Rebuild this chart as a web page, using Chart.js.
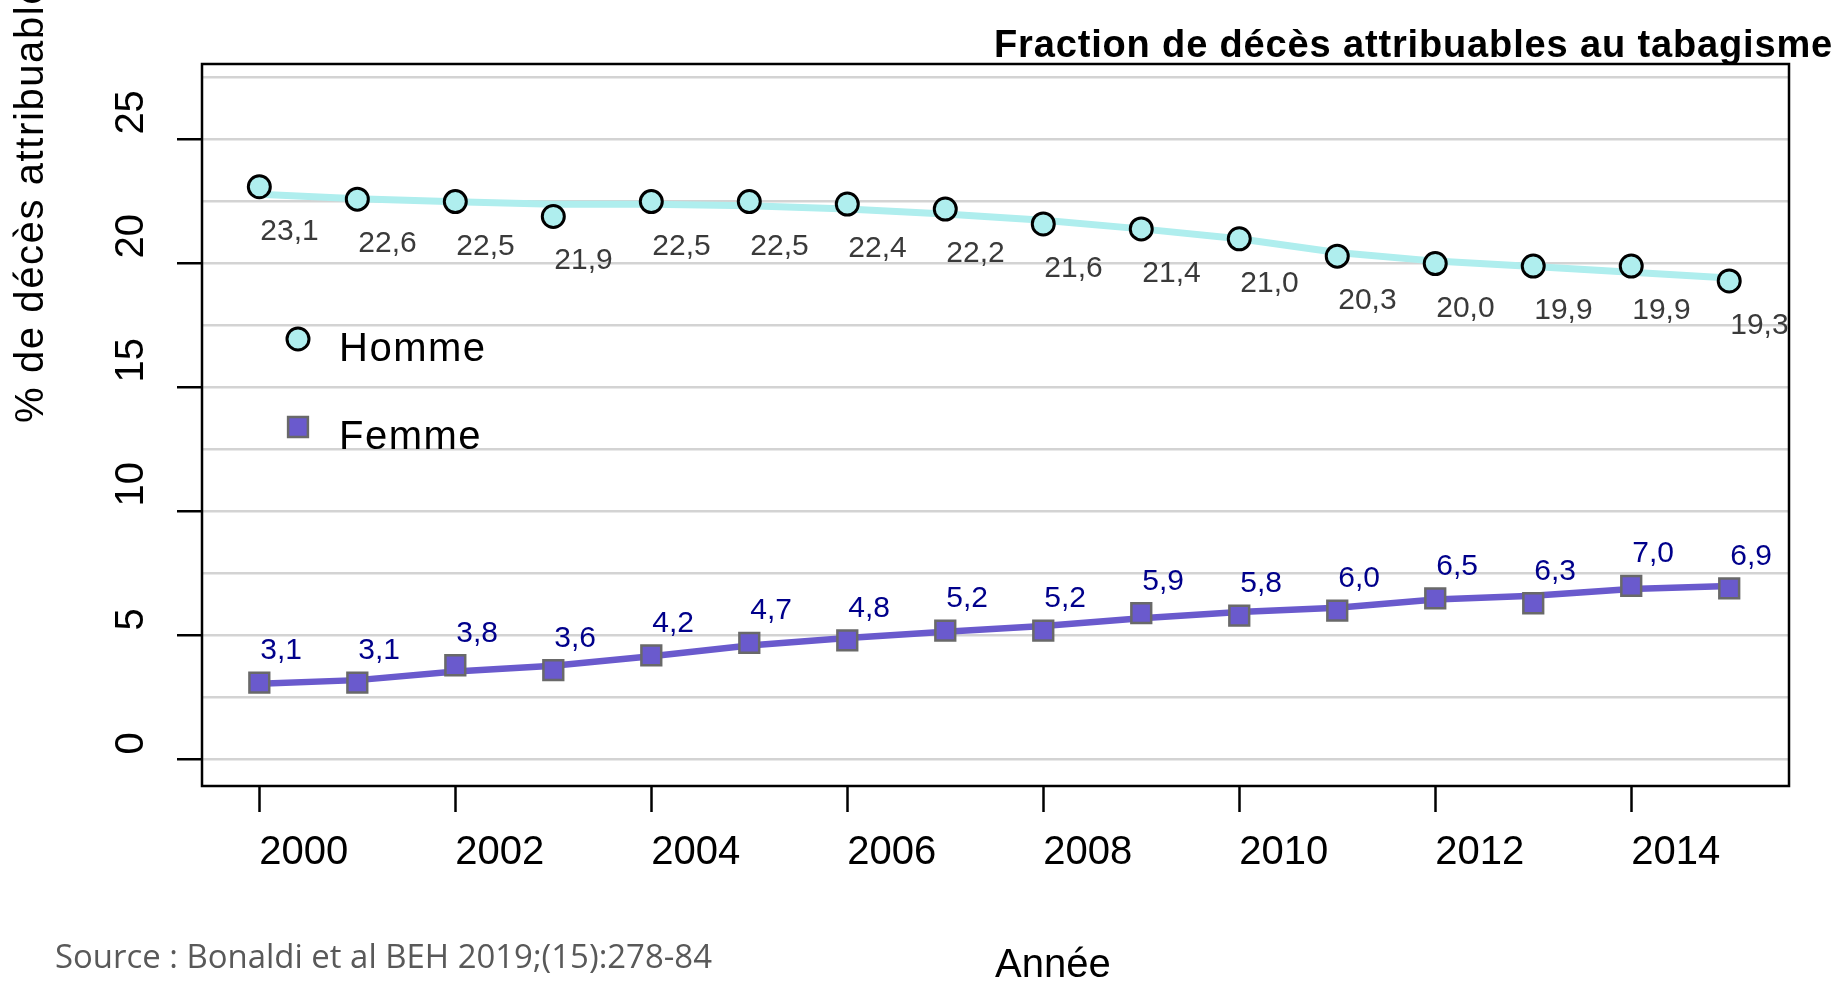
<!DOCTYPE html>
<html lang="fr">
<head>
<meta charset="utf-8">
<title>Fraction de décès attribuables au tabagisme</title>
<script src="https://cdn.jsdelivr.net/npm/chart.js@4.4.1/dist/chart.umd.min.js"></script>
<style>
  html, body { margin: 0; padding: 0; background: #fff; }
  #cadre { width: 1839px; height: 981px; position: relative; }
</style>
</head>
<body>
<div id="cadre"><canvas id="graphique"></canvas></div>
<script>
// valeurs (Bonaldi et al, BEH 2019)
const annees = [2000, 2001, 2002, 2003, 2004, 2005, 2006, 2007, 2008, 2009, 2010, 2011, 2012, 2013, 2014, 2015];
const homme = [23.1, 22.6, 22.5, 21.9, 22.5, 22.5, 22.4, 22.2, 21.6, 21.4, 21.0, 20.3, 20.0, 19.9, 19.9, 19.3];
const femme = [3.1, 3.1, 3.8, 3.6, 4.2, 4.7, 4.8, 5.2, 5.2, 5.9, 5.8, 6.0, 6.5, 6.3, 7.0, 6.9];
const hommeLisse = [22.8, 22.62, 22.49, 22.39, 22.39, 22.33, 22.2, 22.0, 21.75, 21.4, 21.0, 20.45, 20.1, 19.88, 19.65, 19.42];
const femmeLisse = [3.05, 3.2, 3.55, 3.78, 4.16, 4.6, 4.9, 5.15, 5.38, 5.7, 5.95, 6.12, 6.45, 6.6, 6.88, 7.0];
// graduations
const graduationsX = [2000, 2002, 2004, 2006, 2008, 2010, 2012, 2014];
const graduationsY = [0, 2.5, 5, 7.5, 10, 12.5, 15, 17.5, 20, 22.5, 25, 27.5];
const etiquettesY = ['0', '', '5', '', '10', '', '15', '', '20', '', '25', ''];

const POLICE = '"Liberation Sans", Arial, sans-serif';
const TURQUOISE = '#AFEEEE';
const VIOLET = '#6A5ACD';

Chart.defaults.font.family = POLICE;
Chart.defaults.color = '#000';

const enPoints = (vals) => vals.map((v, i) => ({x: annees[i], y: v}));
const virgule = (v) => v.toFixed(1).replace('.', ',');

// style des etiquettes de valeurs par serie
const styleEtiquettes = {
  'Homme': {couleur: '#3a3a3a', dy: 53},
  'Femme': {couleur: '#00008B', dy: -23.5}
};

const etiquettesValeurs = {
  id: 'etiquettesValeurs',
  afterDatasetsDraw(chart) {
    const {ctx, chartArea} = chart;
    ctx.save();
    ctx.beginPath();
    ctx.rect(chartArea.left, chartArea.top, chartArea.right - chartArea.left, chartArea.bottom - chartArea.top);
    ctx.clip();
    ctx.font = '30px ' + POLICE;
    ctx.textAlign = 'left';
    ctx.textBaseline = 'alphabetic';
    chart.data.datasets.forEach((ds, i) => {
      const st = styleEtiquettes[ds.label];
      if (!st) return;
      ctx.fillStyle = st.couleur;
      chart.getDatasetMeta(i).data.forEach((pt, j) => {
        ctx.fillText(virgule(ds.data[j].y), pt.x + 1, pt.y + st.dy);
      });
    });
    ctx.restore();
  }
};

const habillage = {
  id: 'habillage',
  afterDraw(chart) {
    const {ctx, chartArea: a} = chart;
    ctx.save();
    // cadre du graphique
    ctx.strokeStyle = '#000';
    ctx.lineWidth = 2.5;
    ctx.strokeRect(a.left, a.top, a.right - a.left, a.bottom - a.top);

    // titre
    ctx.fillStyle = '#000';
    ctx.font = 'bold 38px ' + POLICE;
    ctx.letterSpacing = '0.85px';
    ctx.textAlign = 'right';
    ctx.textBaseline = 'alphabetic';
    ctx.fillText('Fraction de décès attribuables au tabagisme', 1833, 57);

    // titres des axes
    ctx.font = '40px ' + POLICE;
    ctx.textAlign = 'left';
    ctx.letterSpacing = '0px';
    ctx.fillText('Année', 995, 977);
    ctx.save();
    ctx.translate(43, 423);
    ctx.rotate(-Math.PI / 2);
    ctx.letterSpacing = '1.6px';
    ctx.fillText('% de décès attribuables', 0, 0);
    ctx.restore();

    // source
    ctx.fillStyle = '#595959';
    ctx.font = '33px "Open Sans", sans-serif';
    ctx.letterSpacing = '0px';
    ctx.fillText('Source : Bonaldi et al BEH 2019;(15):278-84', 55, 968, 657);

    // legende
    const entrees = [
      {texte: 'Homme', y: 339, style: {pointStyle: 'circle', radius: 11, borderWidth: 3}, fond: TURQUOISE, trait: '#000'},
      {texte: 'Femme', y: 427, style: {pointStyle: 'rect', radius: 14, borderWidth: 2.5}, fond: VIOLET, trait: '#696969'}
    ];
    entrees.forEach(e => {
      ctx.fillStyle = e.fond;
      ctx.strokeStyle = e.trait;
      ctx.lineWidth = e.style.borderWidth;
      Chart.helpers.drawPoint(ctx, e.style, 298, e.y);
      ctx.fillStyle = '#000';
      ctx.font = '40px ' + POLICE;
      ctx.letterSpacing = '1.5px';
      ctx.fillText(e.texte, 339, e.y + 22);
      ctx.letterSpacing = '0px';
    });
    ctx.restore();
  }
};

new Chart(document.getElementById('graphique'), {
  type: 'line',
  data: {
    datasets: [
      {
        label: 'Homme',
        data: enPoints(homme),
        showLine: false,
        pointStyle: 'circle',
        pointRadius: 11,
        pointBorderWidth: 3,
        pointBackgroundColor: TURQUOISE,
        pointBorderColor: '#000'
      },
      {
        label: 'Femme',
        data: enPoints(femme),
        showLine: false,
        pointStyle: 'rect',
        pointRadius: 14,
        pointBorderWidth: 2.5,
        pointBackgroundColor: VIOLET,
        pointBorderColor: '#696969'
      },
      {
        label: 'Homme lissé',
        data: enPoints(hommeLisse),
        borderColor: TURQUOISE,
        borderWidth: 7,
        pointRadius: 0
      },
      {
        label: 'Femme lissé',
        data: enPoints(femmeLisse),
        borderColor: VIOLET,
        borderWidth: 6.5,
        pointRadius: 0
      }
    ]
  },
  options: {
    responsive: true,
    maintainAspectRatio: false,
    devicePixelRatio: 1,
    animation: false,
    events: [],
    layout: {padding: {top: 64, left: 112, right: 50, bottom: 0}},
    plugins: {
      legend: {display: false},
      tooltip: {enabled: false}
    },
    scales: {
      x: {
        type: 'linear',
        min: 1999.415,
        max: 2015.61,
        afterBuildTicks: (s) => { s.ticks = graduationsX.map(v => ({value: v})); },
        afterFit: (s) => { s.height = 195; },
        border: {display: false},
        grid: {drawOnChartArea: false, drawTicks: true, tickLength: 26, tickColor: '#000', tickWidth: 2.5},
        ticks: {
          align: 'start',
          autoSkip: false,
          maxRotation: 0,
          padding: 16.5,
          font: {size: 40},
          color: '#000',
          callback: (v) => String(v)
        }
      },
      y: {
        type: 'linear',
        min: -1.07,
        max: 28.05,
        afterBuildTicks: (s) => { s.ticks = graduationsY.map(v => ({value: v})); },
        afterFit: (s) => { s.width = 90; },
        border: {display: false},
        grid: {
          color: '#D3D3D3',
          lineWidth: 2.5,
          drawTicks: true,
          tickLength: 25,
          tickWidth: 2.5,
          tickColor: (c) => (c.tick && c.tick.value % 5 === 0) ? '#000' : 'rgba(0,0,0,0)'
        },
        ticks: {
          autoSkip: false,
          minRotation: 90,
          maxRotation: 90,
          crossAlign: 'far',
          align: 'start',
          labelOffset: -5,
          font: {size: 40},
          color: '#000',
          callback: (v, i) => etiquettesY[i]
        }
      }
    }
  },
  plugins: [etiquettesValeurs, habillage]
});
</script>
</body>
</html>
